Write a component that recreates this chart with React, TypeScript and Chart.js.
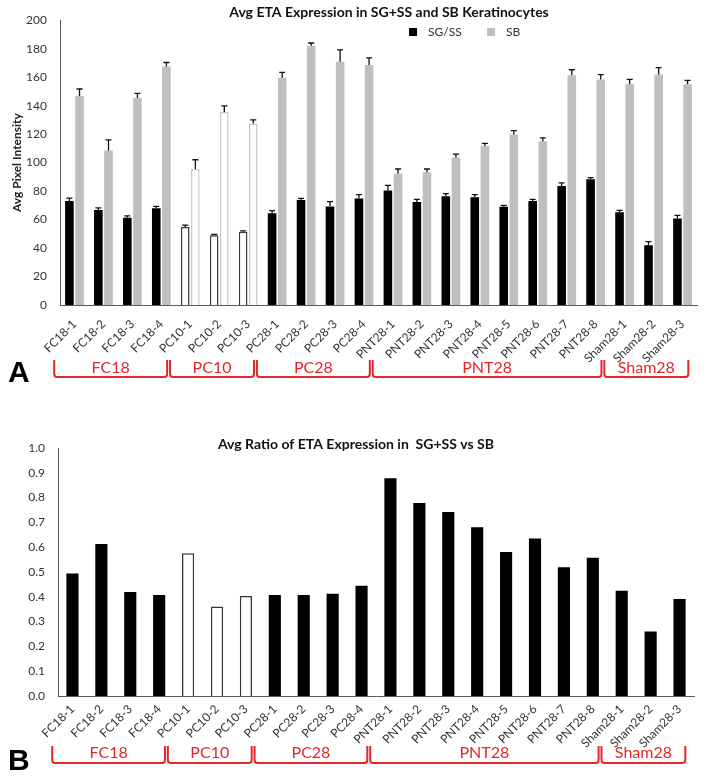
import React, { useEffect, useRef } from "react";
import { Chart, registerables } from "chart.js";

Chart.register(...registerables);

const categories = [
  "FC18-1", "FC18-2", "FC18-3", "FC18-4",
  "PC10-1", "PC10-2", "PC10-3",
  "PC28-1", "PC28-2", "PC28-3", "PC28-4",
  "PNT28-1", "PNT28-2", "PNT28-3", "PNT28-4", "PNT28-5", "PNT28-6", "PNT28-7", "PNT28-8",
  "Sham28-1", "Sham28-2", "Sham28-3",
];

const sgss = [73, 66.7, 61.3, 68, 54.8, 49, 51.5, 64.5, 73.7, 69.2, 74.8, 80.4, 72.4, 76.4, 75.7, 69, 73, 83.6, 88.3, 65.2, 42, 60.7];
const sgssErr = [2, 1.5, 1.3, 1.2, 1.3, 0.5, 0.6, 1.8, 1.2, 3.4, 2.7, 3.6, 1.8, 1.8, 1.8, 1, 1.2, 2.2, 1.2, 1.2, 2.5, 2.2];
const sb = [146.7, 108.5, 145.4, 167.4, 95.5, 135.5, 127.4, 159.6, 182, 170.8, 168.5, 92.1, 93.3, 103.4, 111.7, 119.8, 115, 161.3, 158.4, 155, 161.8, 155];
const sbErr = [5, 7.5, 3.2, 2.9, 6.5, 4.3, 2.6, 3.8, 2, 8.3, 5, 3.4, 2.2, 2.6, 1.8, 2.7, 2.3, 3.9, 3.4, 3.4, 4.9, 2.8];
const ratio = [0.494, 0.613, 0.419, 0.407, 0.576, 0.361, 0.403, 0.407, 0.407, 0.412, 0.445, 0.878, 0.778, 0.742, 0.68, 0.581, 0.635, 0.519, 0.557, 0.424, 0.26, 0.391];

const groupNames = ["FC18", "PC10", "PC28", "PNT28", "Sham28"];
const groupStart = [0, 4, 7, 11, 19];
const groupEnd = [3, 6, 10, 18, 21];

const titleA = "Avg ETA Expression in SG+SS and SB Keratinocytes";
const titleB = "Avg Ratio of ETA Expression in  SG+SS vs SB";
const yTitleA = "Avg Pixel Intensity";
const legendLabels = ["SG/SS", "SB"];

const FONT = "Lato, 'Liberation Sans', sans-serif";
const RED = "#e3262a";
const GRAY = "#bfbfbf";
const AXIS = "#595959";
const TXT = "#333333";

const isOpen = (c: string) => c.startsWith("PC10");

function drawBrackets(chart: any, yTop: number, yBottom: number, yText: number) {
  const ctx = chart.ctx;
  const x = chart.scales.x;
  const w = x.getPixelForValue(1) - x.getPixelForValue(0);
  ctx.save();
  ctx.strokeStyle = RED;
  ctx.lineWidth = 2;
  ctx.fillStyle = RED;
  ctx.font = `16px ${FONT}`;
  ctx.textAlign = "center";
  ctx.textBaseline = "middle";
  groupNames.forEach((name, g) => {
    const x0 = x.getPixelForValue(groupStart[g]) - 0.7 * w;
    const x1 = x.getPixelForValue(groupEnd[g]) + 0.2 * w;
    const r = 3;
    ctx.beginPath();
    ctx.moveTo(x0, yTop);
    ctx.lineTo(x0, yBottom - r);
    ctx.quadraticCurveTo(x0, yBottom, x0 + r, yBottom);
    ctx.lineTo(x1 - r, yBottom);
    ctx.quadraticCurveTo(x1, yBottom, x1, yBottom - r);
    ctx.lineTo(x1, yTop);
    ctx.stroke();
    ctx.fillText(name, (x0 + x1) / 2, yText);
  });
  ctx.restore();
}

function drawLetter(chart: any, letter: string, x: number, y: number) {
  const ctx = chart.ctx;
  ctx.save();
  ctx.fillStyle = "#000";
  ctx.font = "bold 30px 'Liberation Sans', Arial, sans-serif";
  ctx.textAlign = "left";
  ctx.textBaseline = "middle";
  ctx.fillText(letter, x, y);
  ctx.restore();
}

const errorBars = {
  id: "errorBars",
  afterDatasetsDraw(chart: any) {
    const ctx = chart.ctx;
    const y = chart.scales.y;
    const series = [sgss, sb];
    [sgssErr, sbErr].forEach((errs, di) => {
      const meta = chart.getDatasetMeta(di);
      meta.data.forEach((el: any, i: number) => {
        const top = y.getPixelForValue(series[di][i] + errs[i]);
        ctx.save();
        ctx.strokeStyle = "#111";
        ctx.lineWidth = 1.3;
        ctx.beginPath();
        ctx.moveTo(el.x, el.y);
        ctx.lineTo(el.x, top);
        ctx.moveTo(el.x - 3, top);
        ctx.lineTo(el.x + 3, top);
        ctx.stroke();
        ctx.restore();
      });
    });
  },
};

const overlayA = {
  id: "overlayA",
  afterDraw(chart: any) {
    const ctx = chart.ctx;
    ctx.save();
    ctx.fillStyle = "#111";
    ctx.font = `bold 14px ${FONT}`;
    ctx.textAlign = "center";
    ctx.textBaseline = "middle";
    ctx.fillText(titleA, 389, 12);
    // legend
    ctx.font = `12px ${FONT}`;
    ctx.textAlign = "left";
    ctx.fillStyle = "#000";
    ctx.fillRect(409, 28, 8, 8);
    ctx.fillStyle = TXT;
    ctx.fillText(legendLabels[0], 428, 32);
    ctx.fillStyle = GRAY;
    ctx.fillRect(487, 28, 8, 8);
    ctx.fillStyle = TXT;
    ctx.fillText(legendLabels[1], 506, 32);
    ctx.restore();
    drawBrackets(chart, 360, 377, 368);
    drawLetter(chart, "A", 8, 374);
  },
};

const overlayB = {
  id: "overlayB",
  afterDraw(chart: any) {
    const ctx = chart.ctx;
    ctx.save();
    ctx.fillStyle = "#111";
    ctx.font = `bold 14px ${FONT}`;
    ctx.textAlign = "center";
    ctx.textBaseline = "middle";
    ctx.fillText(titleB, 356, 54);
    ctx.restore();
    drawBrackets(chart, 356, 373, 363);
    drawLetter(chart, "B", 8, 372);
  },
};

export default function App() {
  const refA = useRef<HTMLCanvasElement>(null);
  const refB = useRef<HTMLCanvasElement>(null);

  useEffect(() => {
    document.body.style.margin = "0";
    const chartA = new Chart(refA.current as HTMLCanvasElement, {
      type: "bar",
      data: {
        labels: categories,
        datasets: [
          {
            label: legendLabels[0],
            data: sgss,
            backgroundColor: categories.map((c) => (isOpen(c) ? "#ffffff" : "#000000")),
            borderColor: categories.map((c) => (isOpen(c) ? "#3a3a3a" : "#000000")),
            borderWidth: categories.map((c) => (isOpen(c) ? 1.5 : 0)),
            categoryPercentage: 0.7,
            barPercentage: 0.85,
          },
          {
            label: legendLabels[1],
            data: sb,
            backgroundColor: categories.map((c) => (isOpen(c) ? "#ffffff" : GRAY)),
            borderColor: categories.map((c) => (isOpen(c) ? "#c8c8c8" : GRAY)),
            borderWidth: categories.map((c) => (isOpen(c) ? 1.5 : 0)),
            categoryPercentage: 0.7,
            barPercentage: 0.85,
          },
        ],
      },
      options: {
        responsive: false,
        animation: false,
        layout: { padding: { left: 0, right: 8, top: 8, bottom: 0 } },
        plugins: { legend: { display: false }, title: { display: false }, tooltip: { enabled: false } },
        scales: {
          x: {
            grid: { display: false, drawTicks: false },
            border: { display: true, color: AXIS, width: 1 },
            ticks: { minRotation: 45, maxRotation: 45, autoSkip: false, padding: 12, font: { family: FONT, size: 12 }, color: TXT },
            afterFit: (s: any) => { s.height = 85; },
          },
          y: {
            min: 0,
            max: 200,
            grid: { display: false, drawTicks: false },
            border: { display: true, color: AXIS, width: 1 },
            ticks: { stepSize: 20, padding: 13, font: { family: FONT, size: 12 }, color: TXT },
            title: { display: true, text: yTitleA, font: { family: FONT, size: 12, weight: "bold" }, color: "#222", padding: { top: 10, bottom: 0 } },
            afterFit: (s: any) => { s.width = 60; },
          },
        },
      } as any,
      plugins: [errorBars, overlayA],
    });

    const chartB = new Chart(refB.current as HTMLCanvasElement, {
      type: "bar",
      data: {
        labels: categories,
        datasets: [
          {
            label: "Ratio",
            data: ratio,
            backgroundColor: categories.map((c) => (isOpen(c) ? "#ffffff" : "#000000")),
            borderColor: categories.map((c) => (isOpen(c) ? "#333333" : "#000000")),
            borderWidth: categories.map((c) => (isOpen(c) ? 1.5 : 0)),
            categoryPercentage: 1,
            barPercentage: 0.42,
          },
        ],
      },
      options: {
        responsive: false,
        animation: false,
        layout: { padding: { left: 0, right: 11, top: 58, bottom: 0 } },
        plugins: { legend: { display: false }, title: { display: false }, tooltip: { enabled: false } },
        scales: {
          x: {
            grid: { display: false, drawTicks: false },
            border: { display: true, color: AXIS, width: 1 },
            ticks: { minRotation: 45, maxRotation: 45, autoSkip: false, padding: 6, font: { family: FONT, size: 12 }, color: TXT },
            afterFit: (s: any) => { s.height = 84; },
          },
          y: {
            min: 0,
            max: 1,
            grid: { display: false, drawTicks: false },
            border: { display: true, color: AXIS, width: 1 },
            ticks: { stepSize: 0.1, padding: 13, font: { family: FONT, size: 12 }, color: TXT, callback: (v: any) => Number(v).toFixed(1) },
            afterFit: (s: any) => { s.width = 58; },
          },
        },
      } as any,
      plugins: [overlayB],
    });

    return () => {
      chartA.destroy();
      chartB.destroy();
    };
  }, []);

  return (
    <div style={{ width: 705, height: 780, position: "relative", background: "#fff" }}>
      <canvas ref={refA} width={705} height={390} style={{ display: "block" }} />
      <canvas ref={refB} width={705} height={390} style={{ display: "block" }} />
    </div>
  );
}
